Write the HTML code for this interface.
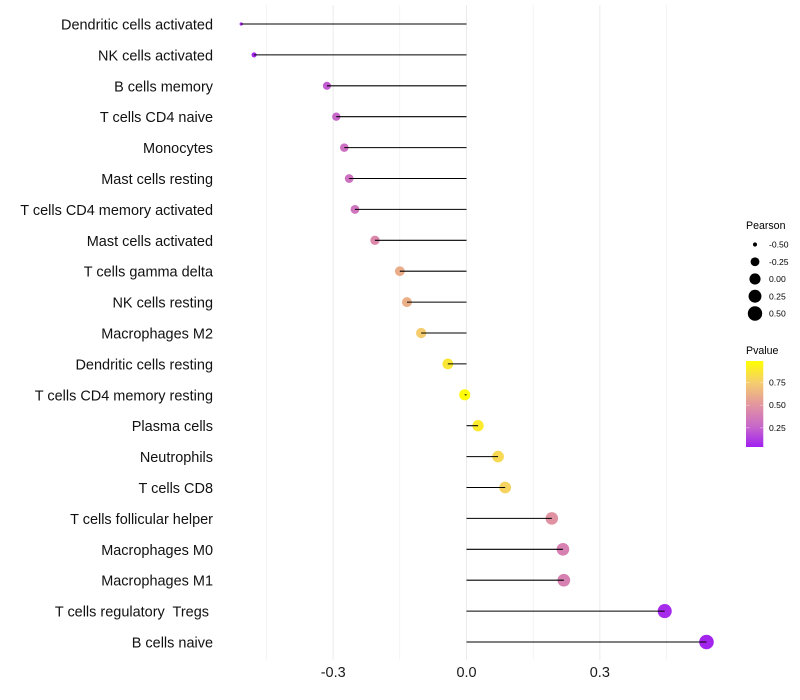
<!DOCTYPE html>
<html>
<head>
<meta charset="utf-8">
<title>Immune cell correlation lollipop chart</title>
<style>
  html, body { margin: 0; padding: 0; background: #fff; }
  svg { display: block; font-family: "Liberation Sans", Arial, sans-serif; }
</style>
</head>
<body>
<svg id="chart" width="800" height="700" viewBox="0 0 800 700" xmlns="http://www.w3.org/2000/svg"></svg>
<script>
const categories = ["Dendritic cells activated","NK cells activated","B cells memory","T cells CD4 naive","Monocytes","Mast cells resting","T cells CD4 memory activated","Mast cells activated","T cells gamma delta","NK cells resting","Macrophages M2","Dendritic cells resting","T cells CD4 memory resting","Plasma cells","Neutrophils","T cells CD8","T cells follicular helper","Macrophages M0","Macrophages M1","T cells regulatory  Tregs ","B cells naive"];
const pearson = [-0.507,-0.478,-0.314,-0.293,-0.275,-0.264,-0.251,-0.206,-0.150,-0.134,-0.102,-0.042,-0.004,0.026,0.071,0.087,0.192,0.217,0.219,0.446,0.540];
const pvalue = [0.02,0.03,0.22,0.27,0.31,0.32,0.34,0.44,0.61,0.62,0.75,0.88,0.98,0.90,0.81,0.78,0.49,0.40,0.40,0.04,0.02];
const xMajorTicks = [-0.3,0.0,0.3];
const xTickLabels = ["-0.3","0.0","0.3"];
const xMinorTicks = [-0.45,-0.15,0.15,0.45];
const sizeLegendValues = [-0.50,-0.25,0.00,0.25,0.50];
const sizeLegendLabels = ["-0.50","-0.25","0.00","0.25","0.50"];
const colorLegendValues = [0.25,0.50,0.75];
const colorLegendLabels = ["0.25","0.50","0.75"];

const svg = document.getElementById('chart');
const NS = 'http://www.w3.org/2000/svg';

function make(tag, attrs, text) {
  const el = document.createElementNS(NS, tag);
  for (const k in attrs) el.setAttribute(k, attrs[k]);
  if (text !== undefined) el.textContent = text;
  return el;
}

// Axis functions
const xScale = v => 466.5 + v * 444.4;
const yScale = i => 24 + i * 30.9;
const sizeMin = -0.507, sizeMax = 0.54;
const rScale = v => 1.6 + 5.7 * Math.sqrt(Math.max(0, (v - sizeMin) / (sizeMax - sizeMin)));
const colorBarY = p => 450.5 - p * 90.6;

const colorStops = [[0,[160,32,240]],[0.25,[197,100,205]],[0.5,[226,148,160]],[0.75,[245,205,110]],[1,[255,255,0]]];
function colorFor(p) {
  const t = Math.max(0, Math.min(1, p));
  for (let i = 1; i < colorStops.length; i++) {
    if (t <= colorStops[i][0]) {
      const a = colorStops[i-1], b = colorStops[i];
      const f = (t - a[0]) / (b[0] - a[0]);
      const c = a[1].map((v, j) => Math.round(v + (b[1][j] - v) * f));
      return 'rgb(' + c.join(',') + ')';
    }
  }
  return 'rgb(255,255,0)';
}

// Gridlines
xMinorTicks.forEach(v => {
  const g = make('line', {x1:xScale(v), x2:xScale(v), y1:5, y2:660, stroke:'#ebebeb', 'stroke-width':0.55});
  
  
  svg.appendChild(g);
});
xMajorTicks.forEach((v, i) => {
  const g = make('line', {x1:xScale(v), x2:xScale(v), y1:5, y2:660, stroke:'#ebebeb', 'stroke-width':1});
  
  
  svg.appendChild(g);
  const t = make('text', {x:xScale(v), y:677, 'text-anchor':'middle', 'font-size':14.47, fill:'#1a1a1a'}, xTickLabels[i]);
  
  
  svg.appendChild(t);
});

// Points, stems, labels
categories.forEach((name, i) => {
  const label = make('text', {x:213, y:yScale(i) + 5.5, 'text-anchor':'end', 'font-size':14.47, fill:'#111', style:'white-space:pre'}, name);
  
  
  svg.appendChild(label);

  const dot = make('circle', {cx:xScale(pearson[i]), cy:yScale(i), r:rScale(pearson[i]), fill:colorFor(pvalue[i])});
  
  
  svg.appendChild(dot);

  const stem = make('line', {x1:xScale(0), x2:xScale(pearson[i]), y1:yScale(i), y2:yScale(i), stroke:'#000', 'stroke-width':1.07});
  
  
  svg.appendChild(stem);
});

// Size legend
const sizeTitle = make('text', {x:746, y:229, 'font-size':10.6, fill:'#000'}, 'Pearson');


svg.appendChild(sizeTitle);
sizeLegendValues.forEach((v, i) => {
  const y = 244.5 + i * 17.25;
  const c = make('circle', {cx:755, cy:y, r:rScale(v), fill:'#000'});
  
  
  svg.appendChild(c);
  const t = make('text', {x:769, y:y + 3, 'font-size':8.6, fill:'#000'}, sizeLegendLabels[i]);
  
  
  svg.appendChild(t);
});

// Colour legend
const colorTitle = make('text', {x:746, y:354, 'font-size':10.6, fill:'#000'}, 'Pvalue');


svg.appendChild(colorTitle);
const defs = make('defs', {});
const grad = make('linearGradient', {id:'pvalue-gradient', x1:0, y1:1, x2:0, y2:0});
const barBottom = 0.04, barTop = 0.99;
colorStops.forEach(s => {
  const off = Math.max(0, Math.min(1, (s[0] - barBottom) / (barTop - barBottom)));
  grad.appendChild(make('stop', {offset:off, 'stop-color':'rgb(' + s[1].join(',') + ')'}));
});
defs.appendChild(grad);
svg.appendChild(defs);
const bar = make('rect', {x:746, y:361, width:17.3, height:86, fill:'url(#pvalue-gradient)'});


svg.appendChild(bar);
colorLegendValues.forEach((v, i) => {
  const y = colorBarY(v);
  [[746, 749.5], [759.8, 763.3]].forEach(seg => {
    const tick = make('line', {x1:seg[0], x2:seg[1], y1:y, y2:y, stroke:'#fff', 'stroke-opacity':0.6, 'stroke-width':0.6});
    
    
    svg.appendChild(tick);
  });
  const t = make('text', {x:769, y:y + 3, 'font-size':8.6, fill:'#000'}, colorLegendLabels[i]);
  
  
  svg.appendChild(t);
});
</script>
</body>
</html>
